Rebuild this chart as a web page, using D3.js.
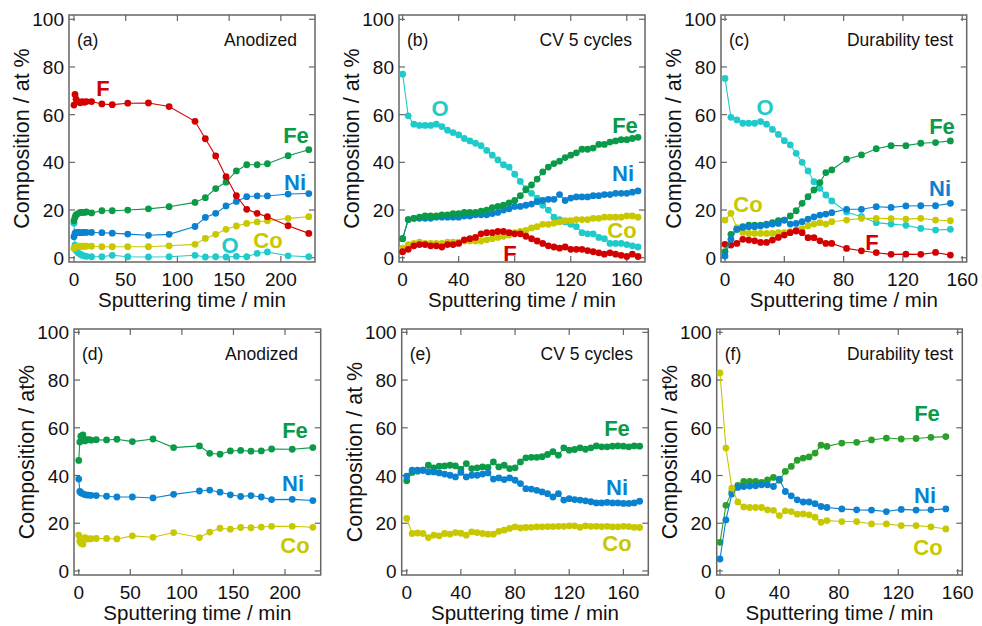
<!DOCTYPE html>
<html>
<head>
<meta charset="utf-8">
<script src="https://cdn.jsdelivr.net/npm/d3@7"></script>
<style>
  body { margin: 0; background: #fff; }
  svg { display: block; font-family: "Liberation Sans", Arial, sans-serif; }
</style>
</head>
<body>
<svg id="chart" width="982" height="626"></svg>
<script>
// ---------- data ----------
const timeA = [0,1,2,4,6,8,10,12,17,27,37,52,72,92,117,127,137,147,157,167,177,187,207,227];
const timeB = [0,4,8,12,16,20,24,28,32,36,40,44,48,52,56,60,64,68,72,76,80,84,88,92,96,100,104,108,112,116,120,124,128,132,136,140,144,148,152,156,160,164,168];
const timeC = [0,4,8,12,16,20,24,28,32,36,40,44,48,52,56,60,64,68,72,82,92,102,112,122,132,142,152];
const timeE = [0,4,8,12,16,20,24,28,32,36,40,44,48,52,56,60,64,68,72,76,80,84,88,92,96,100,104,108,112,116,120,124,128,132,136,140,144,148,152,156,160,164,168,172];

// (a) anodized, top row
const aF  = [64,68.5,66.5,65.5,65,65.5,65.2,65.5,65.5,64.5,64.2,64.8,64.9,63.4,57.2,49.9,42.7,34,26,20.3,18.6,17.2,13.4,10.2];
const aFe = [15.5,17,18,18.5,19,19,19,19.2,18.8,19.7,19.7,20,20.5,21.4,23.2,25.2,29,31.7,36.4,39,39,39.4,42.8,45.3];
const aNi = [8.8,10.2,10.6,10.6,10.5,10.6,10.6,10.6,10.6,10.5,10.3,9.9,9.4,9.8,13.1,16.9,18.6,21.7,23.6,25.6,25.9,25.9,26.7,26.9];
const aCo = [3.9,4.3,4.6,4.8,4.8,4.8,4.8,4.8,4.8,4.6,4.6,4.6,4.6,5,5.6,8.1,9.8,11.9,13.3,14.4,15,15.5,16.5,17.2];
const aO  = [14.5,5.3,3,2,1.5,1,0.8,0.6,0.4,0.4,1,0.4,0.3,0.4,1,0.3,0.4,0.3,0.6,0.4,1.8,2.4,0.8,0.4];

// (b) CV 5 cycles, top row
const bO  = [77,59.5,56,55.5,55.5,55.5,56,55,53.5,52.5,51.5,50,49,48,47,45,43,41,39,38,35,32,29,27,25,22,20,17,16,15,14,13,10.5,10,10,8.5,8,6,6,6,5.5,5,4.5];
const bFe = [8,16,16.5,17,17.5,17.5,17.5,18,18,18.5,18.5,19,19,19,19.5,20,21,21.5,22,23,24,26,28.5,30.5,33,36,38,39.5,40.5,42,43,44,45.5,45.5,46,47.5,47.5,48.5,49,49.5,49.5,50,50.5];
const bNi = [8,16,16.5,16.5,16.5,16.5,17,17,17,17,17,17.5,17.5,18,18,18,18.5,19,20,20.5,21.5,21.5,22,22.5,23.5,24,24.5,24.5,26.5,24,25,25.5,25.5,25.5,26,26,26.5,26.5,27,27,27,27.5,28];
const bCo = [4,5.5,6,6.5,6,6,6,6,6.5,6.5,6.5,7,7,7,7,7.5,8,8.5,9,9.5,10.5,11,11.5,12.5,13,14,14,14.5,15,15.5,15.5,16,16,16,16.5,16.5,17,17,17,17,17.5,17.5,17];
const bF  = [2.5,3.5,5,5.5,5.5,5,5,4.5,5.5,5.5,6,7.5,8,8.5,10,10.5,10.5,11,11,10.5,10,10,9,8,7,6,5,4.5,4,4.5,3.5,3.5,3.5,3,2.5,2,1.5,2,1.5,1,0.5,1.5,0.5];

// (c) durability test, top row
const cO  = [75.2,58.9,57.8,56.4,56.4,56.4,57.1,56,53.8,51.7,49.1,47.3,43.8,40,36.4,31.9,29.1,26.3,23.8,19.2,17.2,14.7,14.1,13.6,12.3,11.6,11.9];
const cFe = [2.5,9.8,11.9,13,13.7,13.7,13.7,14.1,14.7,15.5,15.8,17.5,19.7,22.8,25.6,28.4,31.5,35.7,36.8,41.3,43.1,45.7,47,47,48,48.3,49];
const cNi = [0.7,7.7,11.9,12.7,13,13,13.3,13.7,14.1,14.4,15.8,14.1,14.4,15.1,16.2,17.1,17.9,18.3,18.9,20.3,20.3,21.4,21.1,21.7,21.8,21.8,22.8];
const cCo = [15.8,18.6,12.6,10.6,10.2,10.2,10.2,10.2,10.2,10.5,10.5,10.9,11.6,12.2,13.4,14.1,14.7,14.1,15.1,15.8,16.5,16.5,16.4,16.2,16.5,15.8,15.5];
const cF  = [5.6,5.3,6,7.7,7.4,7.1,6.4,6.4,7.4,8.5,9.5,10.5,11.2,10.5,8.4,8.4,7.1,6,6,3.9,2.9,2.1,1.4,1.5,1.4,2.2,1.1];

// (d) anodized, bottom row
const dFe = [46.3,54,56.5,57,54.5,55,55,54.8,55,54.9,55.2,54.2,55.3,51.7,52.4,49.3,48.9,50.3,50.5,50.2,50.3,51.1,51,51.7];
const dNi = [38.5,33.3,32.8,32.3,32,31.8,31.8,31.7,31.6,31.3,31,31,30.6,32.1,33.5,33.9,33,31.9,31.2,31.6,31,29.9,30,29.5];
const dCo = [15,12.5,11.6,11.2,14,13.4,13.4,13.5,13.6,13.6,13.4,14.7,14.1,16.1,14,16.3,17.9,17.5,18.2,18.1,18.4,18.7,18.7,18.3];

// (e) CV 5 cycles, bottom row
const eFe = [37.8,41.3,41.8,42.2,44.3,43.2,43.9,44,44.3,44,42.7,45,42.9,43.2,43.6,43.4,45.7,43.6,44.3,42.9,43.2,45.7,47.4,47.6,47.6,47.9,48.8,50,48.5,51.6,50.6,50.9,51.6,51,51.6,52.4,52,52,52.3,52.4,52.3,52,52.4,52.3];
const eNi = [39.7,42.2,42.2,42.2,41.5,41.5,41.1,40.6,40.1,39.4,41.3,39.4,40.1,40.1,40.6,41.1,38.5,39,38.3,39,38,36.6,34.5,34.3,33.8,33.1,32.4,31,32.4,29.7,30.3,29.9,29.7,29.4,29,28.5,28.5,28.7,28.5,28.5,28.3,28.3,28.5,29.2];
const eCo = [22,15.7,15.9,15.7,14,15,14.7,15.7,15.4,16.1,15.8,15,16.4,16.1,15.7,15.4,15.4,16.6,17.1,17.8,18.5,18,18.2,18.3,18.5,18.5,18.6,18.6,18.7,18.7,18.9,18.9,18.3,18.9,18.7,18.7,18.6,18.7,18.5,18.5,18.7,18.6,18.3,18.2];

// (f) durability test, bottom row
const fCo = [83,51.5,34.7,28.9,26.8,26.6,26.6,26.6,25.6,25.4,23.2,25.2,24.9,23.8,23.9,23.5,22.5,20.4,21.1,20.7,20.7,19.7,19.7,19,19,18.5,17.6];
const fFe = [12,27.5,33.1,35.9,37.5,37.5,37.5,37.1,38.2,39.2,38,41.7,43.8,46.4,47.3,47.8,49.4,52.7,52.2,53.6,53.9,54.9,55.7,55.3,55.5,56,56.3];
const fNi = [5,21.4,32.2,35,35.4,35.6,35.7,36.1,36.1,35.4,38.5,33.3,31.5,29.8,28.9,28.9,28.2,27,26.6,26,25.6,25.5,24.9,25.8,25.5,25.6,26];

const yTicks = [0, 20, 40, 60, 80, 100];
const xTicksA = [0, 50, 100, 150, 200];
const xTicksB = [0, 40, 80, 120, 160];

// ---------- colours ----------
const col = { F: "#d20000", Fe: "#0a9a48", Ni: "#0a82d0", Co: "#c8c800", O: "#1ecaca" };

// ---------- panel layout ----------
const topY = [15, 262], topDom = [101.8, -1.8];
const botY = [329, 575], botDom = [101.4, -1.7];

const panels = [
  { tag: "(a)", title: "Anodized", fx: [69, 315], fy: topY, xd: [-4.8, 233], yd: topDom, xt: xTicksA, yl: "Composition / at %", time: timeA, titleX: 297,
    series: [["O", aO, col.O], ["Co", aCo, col.Co], ["Ni", aNi, col.Ni], ["Fe", aFe, col.Fe], ["F", aF, col.F]],
    labels: [["F", 103, 88], ["Fe", 296, 135], ["Ni", 295, 182], ["Co", 268, 240], ["O", 230, 245]] },
  { tag: "(b)", title: "CV 5 cycles", fx: [399, 645], fy: topY, xd: [-2.6, 173], yd: topDom, xt: xTicksB, yl: "Composition / at %", time: timeB, titleX: 632,
    series: [["O", bO, col.O], ["Co", bCo, col.Co], ["F", bF, col.F], ["Ni", bNi, col.Ni], ["Fe", bFe, col.Fe]],
    labels: [["O", 440, 108], ["Fe", 625, 125], ["Ni", 623, 173], ["Co", 622, 230], ["F", 510, 253]] },
  { tag: "(c)", title: "Durability test", fx: [721, 966.7], fy: topY, xd: [-2.7, 163], yd: topDom, xt: xTicksB, yl: "Composition / at %", time: timeC, titleX: 953,
    series: [["O", cO, col.O], ["Co", cCo, col.Co], ["F", cF, col.F], ["Fe", cFe, col.Fe], ["Ni", cNi, col.Ni]],
    labels: [["O", 765, 107], ["Fe", 942, 126], ["Ni", 940, 188], ["Co", 748, 204], ["F", 872, 242]] },
  { tag: "(d)", title: "Anodized", fx: [74, 320.7], fy: botY, xd: [-4.6, 234.6], yd: botDom, xt: xTicksA, yl: "Composition / at%", time: timeA, titleX: 298,
    series: [["Co", dCo, col.Co], ["Ni", dNi, col.Ni], ["Fe", dFe, col.Fe]],
    labels: [["Fe", 295, 430], ["Ni", 293, 483], ["Co", 295, 545]] },
  { tag: "(e)", title: "CV 5 cycles", fx: [401.7, 648.3], fy: botY, xd: [-3.7, 178.4], yd: botDom, xt: xTicksB, yl: "Composition / at %", time: timeE, titleX: 633,
    series: [["Co", eCo, col.Co], ["Fe", eFe, col.Fe], ["Ni", eNi, col.Ni]],
    labels: [["Fe", 617, 428], ["Ni", 617, 487], ["Co", 617, 543]] },
  { tag: "(f)", title: "Durability test", fx: [716.7, 962.3], fy: botY, xd: [-2.2, 163.1], yd: botDom, xt: xTicksB, yl: "Composition / at%", time: timeC, titleX: 953,
    series: [["Fe", fFe, "#2aa02a"], ["Ni", fNi, col.Ni], ["Co", fCo, col.Co]],
    labels: [["Fe", 927, 413], ["Ni", 925, 495], ["Co", 928, 547]] }
];

const svg = d3.select("#chart");
const frameColor = "#666";

panels.forEach(p => {
  const x = d3.scaleLinear().domain(p.xd).range(p.fx);
  const y = d3.scaleLinear().domain(p.yd).range(p.fy);
  const g = svg.append("g");
  const [x0, x1] = p.fx, [y0, y1] = p.fy;

  // frame
  g.append("rect").attr("x", x0).attr("y", y0).attr("width", x1 - x0).attr("height", y1 - y0)
    .attr("fill", "none").attr("stroke", frameColor).attr("stroke-width", 1.5);

  // inward ticks on all four sides
  const tl = 6;
  p.xt.forEach(t => {
    g.append("line").attr("x1", x(t)).attr("x2", x(t)).attr("y1", y1).attr("y2", y1 - tl).attr("stroke", frameColor).attr("stroke-width", 1.2);
    g.append("line").attr("x1", x(t)).attr("x2", x(t)).attr("y1", y0).attr("y2", y0 + tl).attr("stroke", frameColor).attr("stroke-width", 1.2);
    g.append("text").attr("x", x(t)).attr("y", y1 + 24).attr("text-anchor", "middle")
      .attr("font-size", "19px").attr("fill", "#111").text(t);
  });
  yTicks.forEach(t => {
    g.append("line").attr("x1", x0).attr("x2", x0 + tl).attr("y1", y(t)).attr("y2", y(t)).attr("stroke", frameColor).attr("stroke-width", 1.2);
    g.append("line").attr("x1", x1).attr("x2", x1 - tl).attr("y1", y(t)).attr("y2", y(t)).attr("stroke", frameColor).attr("stroke-width", 1.2);
    g.append("text").attr("x", x0 - 5).attr("y", y(t) + 7).attr("text-anchor", "end")
      .attr("font-size", "19px").attr("fill", "#111").text(t);
  });

  // axis titles
  g.append("text").attr("x", (x0 + x1) / 2).attr("y", y1 + 45).attr("text-anchor", "middle")
    .attr("font-size", "20.5px").attr("fill", "#111").text("Sputtering time / min");
  g.append("text").attr("transform", `translate(${x0 - 40},${(y0 + y1) / 2}) rotate(-90)`)
    .attr("text-anchor", "middle").attr("font-size", "21.5px").attr("fill", "#111").text(p.yl);

  // panel tag and condition
  g.append("text").attr("x", x0 + 8).attr("y", y0 + 31).attr("font-size", "17.5px").attr("fill", "#111").text(p.tag);
  g.append("text").attr("x", p.titleX).attr("y", y0 + 31).attr("text-anchor", "end")
    .attr("font-size", "17.5px").attr("fill", "#111").text(p.title);

  // series
  const line = d3.line().x(d => x(d[0])).y(d => y(d[1]));
  p.series.forEach(([name, vals, c]) => {
    const pts = p.time.map((t, i) => [t, vals[i]]);
    g.append("path").datum(pts).attr("d", line).attr("fill", "none").attr("stroke", c).attr("stroke-width", 1.1);
    g.selectAll(null).data(pts).enter().append("circle")
      .attr("cx", d => x(d[0])).attr("cy", d => y(d[1])).attr("r", 3.4).attr("fill", c);
  });

  // element labels
  p.labels.forEach(([name, lx, ly]) => {
    g.append("text").attr("x", lx).attr("y", ly + 8).attr("text-anchor", "middle")
      .attr("font-size", "22px").attr("font-weight", "bold").attr("fill", col[name]).text(name);
  });
});
</script>
</body>
</html>
